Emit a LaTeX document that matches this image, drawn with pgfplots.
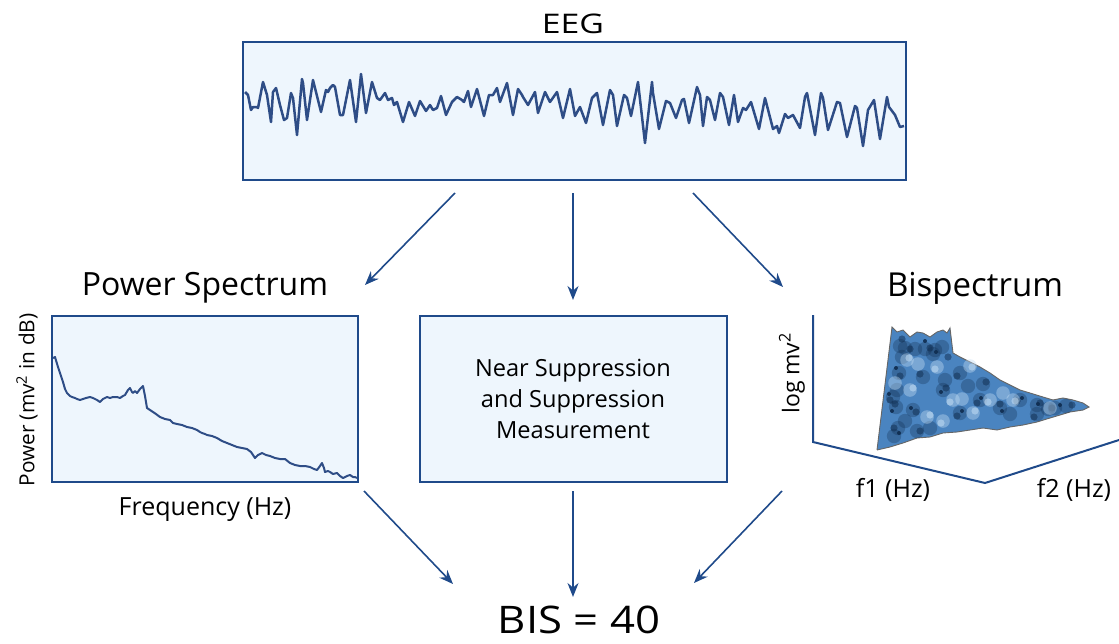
\documentclass[border=0pt]{standalone}
\usepackage{fontspec}
\setmainfont{Open Sans}
\newfontfamily\wideA[FakeStretch=1.25]{Open Sans}
\newfontfamily\wideB[FakeStretch=1.15]{Open Sans}
\usepackage{pgfplots}
\pgfplotsset{compat=1.18}
\usetikzlibrary{arrows.meta}
\definecolor{dblue}{HTML}{1F4A8A}
\definecolor{lfill}{HTML}{EEF6FD}
\definecolor{sig}{HTML}{2E4D86}
\definecolor{bsbase}{HTML}{4A84C0}
\definecolor{bsdark}{HTML}{0F2C4F}
\definecolor{bslight}{HTML}{C2DCF3}
\begin{document}
\begin{tikzpicture}
\begin{axis}[scale only axis, width=559.5pt, height=321.5pt,
  xmin=0, xmax=1119, ymin=0, ymax=643, y dir=reverse,
  hide axis, clip=false]
% ---- boxes
\draw[dblue, line width=1pt, fill=lfill] (axis cs:243,42) rectangle (axis cs:906,180);
\draw[dblue, line width=1pt, fill=lfill] (axis cs:52,316) rectangle (axis cs:358,482);
\draw[dblue, line width=1pt, fill=lfill] (axis cs:420,316) rectangle (axis cs:727,482);
% ---- EEG trace
\addplot[sig, line width=1.25pt, line join=round] coordinates {
(245,92)(248,95)(251,110)(253,107)(257,107)(258,108)(263,82)(267,95)(271,122)(273,92)
(276,88)(280,105)(284,120)(287,118)(291,93)(293,98)(297,135)(302,79)(303,83)(307,120)
(313,80)(321,112)(326,90)(328,92)(330,88)(333,85)(335,87)(340,115)(343,115)(350,80)
(356,122)(361,74)(366,113)(372,82)(377,98)(380,100)(385,93)(388,100)(392,98)(394,105)
(397,102)(403,122)(409,102)(415,116)(420,101)(426,111)(430,105)(433,110)(437,108)(441,96)
(446,115)(452,102)(457,97)(462,100)(464,102)(468,91)(471,107)(477,89)(484,116)(489,95)
(493,95)(497,88)(500,102)(507,83)(513,115)(518,89)(522,95)(523,97)(528,105)(535,92)
(538,113)(545,92)(550,102)(557,92)(563,118)(570,89)(575,116)(580,107)(586,123)(592,98)
(597,93)(603,125)(610,90)(613,95)(617,126)(624,95)(627,98)(631,116)(638,82)(645,143)
(652,82)(653,93)(659,129)(666,101)(670,103)(676,118)(682,100)(684,99)(689,123)(697,87)
(700,95)(703,126)(707,97)(710,100)(715,120)(720,93)(723,97)(729,125)(734,95)(738,122)
(743,108)(746,110)(751,102)(759,129)(765,98)(773,129)(777,126)(779,133)(785,114)(788,118)
(793,115)(800,128)(805,97)(807,93)(815,135)(821,93)(823,98)(828,130)(837,102)(840,103)
(847,137)(855,106)(857,108)(863,146)(868,110)(874,100)(880,139)(887,97)(889,107)(895,115)
(900,127)(904,126)};
% ---- power spectrum trace
\addplot[sig, line width=1pt, line join=round] coordinates {
(53,358)(55,357)(58,367)(60,373)(63,382)(65,389)(67,393)(70,396)(72,397)(75,398)(77,399)
(80,400)(83,399)(86,398)(90,397)(93,398)(97,400)(100,402)(103,399)(107,397)(110,398)
(113,397)(117,397)(120,398)(123,396)(125,395)(128,390)(130,388)(132,392)(133,393)
(135,391)(137,393)(140,389)(143,386)(145,396)(147,408)(150,410)(153,412)(156,414)
(160,417)(165,419)(170,420)(173,423)(177,424)(182,425)(187,427)(192,428)(197,430)
(200,432)(202,433)(205,434)(207,435)(212,436)(217,438)(222,441)(227,443)(232,445)
(237,447)(242,448)(247,449)(251,452)(255,458)(258,455)(262,453)(266,455)(270,456)
(275,458)(280,459)(285,459)(290,463)(295,465)(300,466)(305,466)(310,467)(314,469)
(317,470)(320,466)(322,463)(324,468)(325,472)(328,471)(330,472)(333,474)(337,473)
(340,476)(343,478)(347,476)(350,475)(353,477)(355,477)(357,478)};
% ---- bispectrum axes
\addplot[dblue, line width=1pt] coordinates {(813,315)(813,442)(985,483)(1119,440)};
% ---- bispectrum surface
\addplot[draw=none, fill=bsbase] coordinates {
(877,450)(892,327)(897,332)(903,330)(910,337)(917,332)(923,333)(930,337)(937,332)
(943,330)(947,333)(950,328)(953,353)(960,357)(970,362)(980,367)(990,373)(1000,380)
(1010,385)(1020,390)(1030,393)(1043,397)(1053,400)(1063,398)(1073,400)(1083,403)
(1089,407)(1083,410)(1070,412)(1060,415)(1050,418)(1037,422)(1023,425)(1010,427)
(997,430)(983,428)(970,430)(957,432)(943,433)(930,437)(917,438)(903,443)(890,447)(877,450)};
% soft dark patches
\addplot[only marks, mark=*, mark size=3.6pt, bsdark, opacity=0.3, draw opacity=0] coordinates {
(900,346)(905,348)(915,349)(925,349)(935,350)(942,347)(933,354)(899,373)(923,377)
(943,390)(960,373)(983,384)(980,400)(896,407)(913,410)(898,428)(917,431)(960,413)
(1037,405)(1055,408)(1037,414)(1066,406)(893,397)(1000,408)(1020,400)(894,436)
(902,357)(945,380)(968,386)(905,421)(930,428)(1010,414)(1048,409)(897,390)};
% medium dark spots
\addplot[only marks, mark=*, mark size=1.8pt, bsdark, opacity=0.5, draw opacity=0] coordinates {
(902,339)(910,349)(930,348)(900,376)(920,374)(946,388)(957,376)(986,382)(977,403)
(895,404)(916,412)(894,428)(920,431)(957,416)(1040,403)(1052,408)(1034,417)(1072,405)
(890,400)(1017,401)(948,357)(1000,404)};
% small very dark dots
\addplot[only marks, mark=*, mark size=1pt, bsdark, opacity=0.9, draw opacity=0] coordinates {
(896,368)(936,352)(941,392)(1002,411)(1022,398)(1038,404)(889,394)(892,411)(899,433)
(962,411)(981,398)(911,408)(1060,405)(925,341)};
% light patches
\addplot[only marks, mark=*, mark size=3.4pt, bslight, opacity=0.4, draw opacity=0] coordinates {
(907,360)(937,367)(910,390)(953,400)(927,417)(973,413)(990,400)(1013,400)(943,421)
(970,366)(1003,393)(895,383)(1050,408)(918,364)(962,399)};
\addplot[only marks, mark=*, mark size=1.8pt, bslight, opacity=0.55, draw opacity=0] coordinates {
(909,358)(935,369)(913,388)(950,402)(930,415)(975,411)(988,402)(1015,401)(941,423)
(972,367)};
% outline
\addplot[draw=black!60, line width=0.45pt] coordinates {
(877,450)(892,327)(897,332)(903,330)(910,337)(917,332)(923,333)(930,337)(937,332)
(943,330)(947,333)(950,328)(953,353)(960,357)(970,362)(980,367)(990,373)(1000,380)
(1010,385)(1020,390)(1030,393)(1043,397)(1053,400)(1063,398)(1073,400)(1083,403)
(1089,407)(1083,410)(1070,412)(1060,415)(1050,418)(1037,422)(1023,425)(1010,427)
(997,430)(983,428)(970,430)(957,432)(943,433)(930,437)(917,438)(903,443)(890,447)(877,450)};
% ---- arrows
\begin{scope}[dblue, line width=0.8pt, -{Stealth[length=7pt,width=5.5pt]}]
\draw (axis cs:455,193) -- (axis cs:365,285);
\draw (axis cs:573,193) -- (axis cs:573,300);
\draw (axis cs:693,193) -- (axis cs:783,287);
\draw (axis cs:364,491) -- (axis cs:453,584);
\draw (axis cs:573,491) -- (axis cs:573,597);
\draw (axis cs:782,491) -- (axis cs:694,583);
\end{scope}
% ---- texts
\node[font=\wideA\fontsize{13.5}{15}\selectfont, anchor=base] at (axis cs:573,33) {EEG};
\node[font=\fontsize{16}{19}\selectfont] at (axis cs:205,288) {Power Spectrum};
\node[font=\fontsize{16.5}{19}\selectfont] at (axis cs:975,288) {Bispectrum};
\node[font=\fontsize{11.8}{15.5}\selectfont, align=center] at (axis cs:573,399)
  {Near Suppression\\and Suppression\\Measurement};
\node[font=\fontsize{12.5}{14}\selectfont] at (axis cs:205,510) {Frequency (Hz)};
\node[font=\fontsize{10.4}{14}\selectfont, rotate=90] at (axis cs:27,400) {Power (mv\textsuperscript{2} in dB)};
\node[font=\fontsize{11.5}{14}\selectfont, rotate=90] at (axis cs:792,373) {log mv\textsuperscript{2}};
\node[font=\fontsize{12.5}{14}\selectfont] at (axis cs:893,490) {f1 (Hz)};
\node[font=\fontsize{12.5}{14}\selectfont] at (axis cs:1074,490) {f2 (Hz)};
\node[font=\wideB\fontsize{19}{22}\selectfont, anchor=base, inner sep=0pt] at (axis cs:579,633) {BIS = 40};
\end{axis}
\pgfresetboundingbox
\path (0,0) rectangle (559.5pt,321.5pt);
\end{tikzpicture}
\end{document}
